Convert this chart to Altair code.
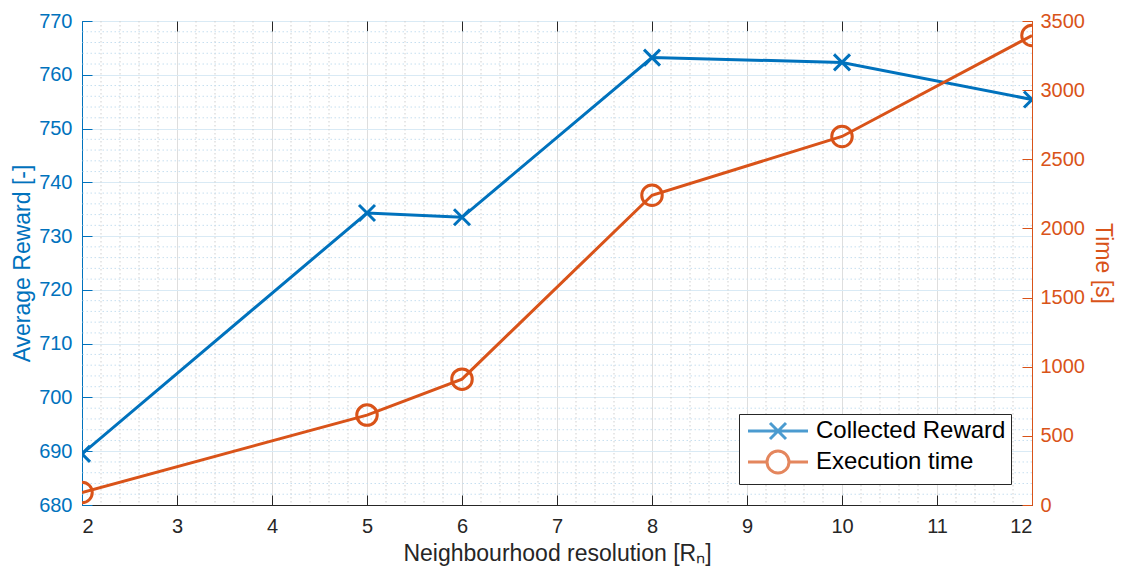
import altair as alt
import pandas as pd
import numpy as np

# ---- data ----
x_vals = [2, 5, 6, 8, 10, 12]
reward = [689.5, 734.3, 733.5, 763.2, 762.3, 755.4]
exec_time = [90, 650, 910, 2240, 2665, 3395]
series_names = ["Collected Reward", "Execution time"]

x_ticks = list(range(2, 13))
left_ticks = list(range(680, 771, 10))
right_ticks = list(range(0, 3501, 500))
x_minor = [round(float(v), 1) for v in np.arange(2, 12.01, 0.2) if abs(v - round(v)) > 1e-6]
y_minor = [v for v in range(680, 771, 2) if v % 10 != 0]

BLUE = "#0072BD"
ORANGE = "#D95319"
DARK = "#262626"
FONT = "Liberation Sans"
W, H = 950, 484
TICK = 10
LW = 3

reward_df = pd.DataFrame({"x": x_vals, "v": reward, "series": series_names[0]})
time_df = pd.DataFrame({"x": x_vals, "v": exec_time, "series": series_names[1]})
xminor_df = pd.DataFrame({"x": x_minor})
yminor_df = pd.DataFrame({"v": y_minor})
legend_df = pd.concat([reward_df, time_df])

xscale = alt.Scale(domain=[2, 12], nice=False, zero=False)
lscale = alt.Scale(domain=[680, 770], nice=False, zero=False)
rscale = alt.Scale(domain=[0, 3500], nice=False, zero=False)

# main axes (labels, grids)
x_axis = alt.Axis(
    orient="bottom", values=x_ticks, title="Neighbourhood resolution [Rₙ]", grid=True,
    gridColor="#dedede", gridWidth=1, domainColor=DARK, domainWidth=1, ticks=False,
    labelColor=DARK, labelFontSize=20, labelPadding=11, titleFontSize=23,
    titleFontWeight="normal", titleColor=DARK, titlePadding=6, format="d",
    labelFont=FONT, titleFont=FONT,
)
l_axis = alt.Axis(
    orient="left", values=left_ticks, title="Average Reward [-]", grid=True,
    gridColor="#d9eaf5", gridWidth=1, domainColor=BLUE, domainWidth=1, ticks=False,
    labelColor=BLUE, labelFontSize=20, labelPadding=10, titleFontSize=23,
    titleFontWeight="normal", titleColor=BLUE, titlePadding=4, format="d",
    labelFont=FONT, titleFont=FONT,
)
r_axis = alt.Axis(
    orient="right", values=right_ticks, title="Time [s]", grid=False,
    domainColor=ORANGE, domainWidth=1, ticks=False, labelColor=ORANGE,
    labelFontSize=20, labelPadding=8, titleFontSize=23, titleFontWeight="normal",
    titleColor=ORANGE, titlePadding=6, format="d", labelFont=FONT, titleFont=FONT,
)
# tick-only axes flipped inside the plot (MATLAB style inward ticks)
x_ticks_bottom_in = alt.Axis(orient="top", offset=-H, values=x_ticks, title=None, labels=False,
                             grid=False, domain=False, tickColor=DARK, tickSize=TICK)
x_ticks_top_in = alt.Axis(orient="bottom", offset=-H, values=x_ticks, title=None, labels=False,
                          grid=False, domain=False, tickColor=DARK, tickSize=TICK)
l_ticks_in = alt.Axis(orient="right", offset=-W, values=left_ticks, title=None, labels=False,
                      grid=False, domain=False, tickColor=BLUE, tickSize=TICK)
r_ticks_in = alt.Axis(orient="left", offset=-W, values=right_ticks, title=None, labels=False,
                      grid=False, domain=False, tickColor=ORANGE, tickSize=TICK)

# legend symbols: line + marker
leg_cross = "M-3,0H3M-0.8,-0.8L0.8,0.8M-0.8,0.8L0.8,-0.8"
leg_circle = "M-3,0H-1.1M1.1,0A1.1,1.1 0 1,1 -1.1,0A1.1,1.1 0 1,1 1.1,0M1.1,0H3"
cross_path = "M-1,-1L1,1M-1,1L1,-1"
circle_path = "M1,0A1,1 0 1,1 -1,0A1,1 0 1,1 1,0Z"

legend = alt.Legend(
    title=None, orient="bottom-right", offset=21, padding=5,
    fillColor="white", strokeColor=DARK, labelFontSize=24, labelFont=FONT,
    labelColor="#000000", labelLimit=400, symbolSize=400, symbolStrokeWidth=LW,
    symbolOffset=22, labelOffset=26, rowPadding=0, cornerRadius=0,
)

# --- group C: minor grid (drawn first) + inner ticks on top / left
xminor = alt.Chart(xminor_df).mark_rule(color="#cfcfcf", strokeWidth=1, strokeDash=[1.5, 2.5]).encode(
    x=alt.X("x:Q", scale=xscale, axis=x_ticks_top_in)
)
yminor = alt.Chart(yminor_df).mark_rule(color="#c6dff0", strokeWidth=1, strokeDash=[1.5, 2.5]).encode(
    y=alt.Y("v:Q", scale=lscale, axis=l_ticks_in)
)
group_c = alt.layer(xminor, yminor)

# --- group A: reward (left axis)
XA = alt.X("x:Q", scale=xscale, axis=x_axis)
YA = alt.Y("v:Q", scale=lscale, axis=l_axis)
reward_line = alt.Chart(reward_df).mark_line(strokeWidth=LW, color=BLUE, clip=True).encode(x=XA, y=YA)
reward_pts = alt.Chart(reward_df).mark_point(
    shape=cross_path, size=256, filled=False, color=BLUE, strokeWidth=LW, opacity=1, clip=True
).encode(x=XA, y=YA)
group_a = alt.layer(reward_line, reward_pts)

# --- group B: execution time (right axis)
XB = alt.X("x:Q", scale=xscale, axis=x_ticks_bottom_in)
YB = alt.Y("v:Q", scale=rscale, axis=r_axis)
time_line = alt.Chart(time_df).mark_line(strokeWidth=LW, color=ORANGE, clip=True).encode(x=XB, y=YB)
time_pts = alt.Chart(time_df).mark_point(
    shape=circle_path, size=420, filled=False, color=ORANGE, strokeWidth=LW, opacity=1, clip=True
).encode(x=XB, y=YB)
group_b = alt.layer(time_line, time_pts)

# --- group D: inner ticks of right axis + legend (no marks drawn)
group_d = alt.Chart(legend_df).transform_filter("false").mark_point(filled=False, strokeWidth=LW).encode(
    y=alt.Y("v:Q", scale=rscale, axis=r_ticks_in),
    color=alt.Color("series:N", scale=alt.Scale(domain=series_names, range=[BLUE, ORANGE]), legend=legend),
    shape=alt.Shape("series:N", scale=alt.Scale(domain=series_names, range=[leg_cross, leg_circle]), legend=legend),
)

chart = (
    alt.layer(group_c, group_a, group_b, group_d)
    .resolve_scale(y="independent")
    .resolve_axis(x="independent", y="independent")
    .properties(
        width=W, height=H, background="white",
        autosize=alt.AutoSizeParams(type="none"),
        padding={"left": 74, "top": 13, "right": 86, "bottom": 63},
    )
    .configure_view(stroke=DARK, strokeWidth=1)
    .configure(font=FONT)
)

chart.save("out.html", embed_options={"renderer": "svg", "actions": False})
